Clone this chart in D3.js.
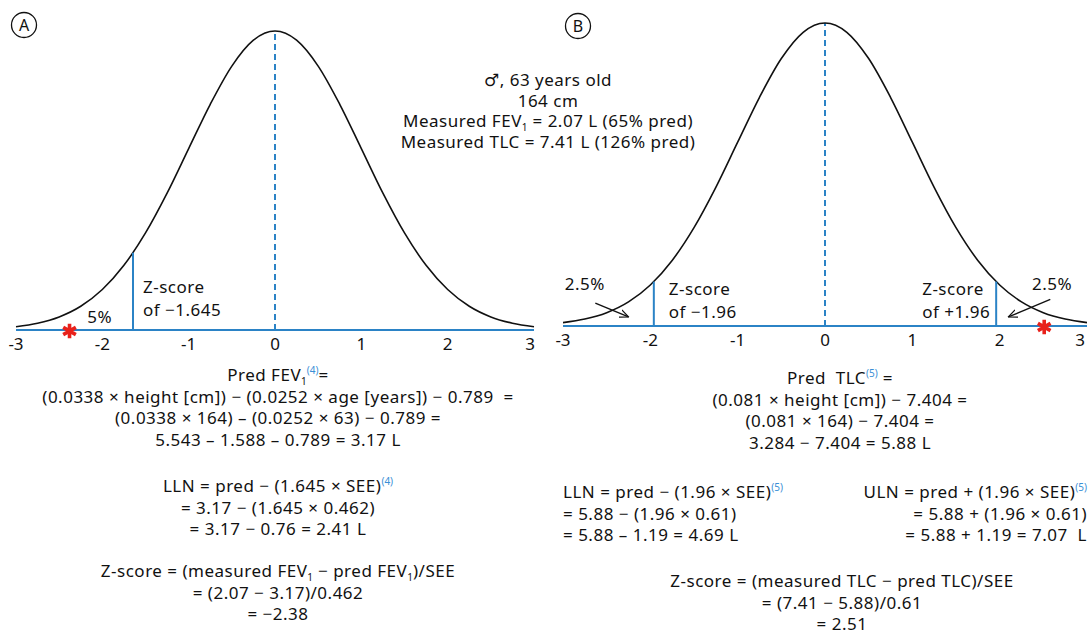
<!DOCTYPE html>
<html>
<head>
<meta charset="utf-8">
<script src="https://cdn.jsdelivr.net/npm/d3@7"></script>
<style>
  body { margin: 0; background: #fff; }
  svg { display: block; font-family: "Noto Sans", "DejaVu Sans", sans-serif; }
  text { fill: #111; }
</style>
</head>
<body>
<div id="chart"></div>
<script>
// Z-score / normal distribution figure, two panels

// standard normal density
var curveZ = [-3, -2.75, -2.5, -2.25, -2, -1.75, -1.5, -1.25, -1, -0.75, -0.5, -0.25, 0,
  0.25, 0.5, 0.75, 1, 1.25, 1.5, 1.75, 2, 2.25, 2.5, 2.75, 3];
var curveDensity = [0.0044, 0.0091, 0.0175, 0.0317, 0.054, 0.0863, 0.1295, 0.1826, 0.242, 0.3011, 0.3521, 0.3867, 0.3989,
  0.3867, 0.3521, 0.3011, 0.242, 0.1826, 0.1295, 0.0863, 0.054, 0.0317, 0.0175, 0.0091, 0.0044];
var zTicks = [-3, -2, -1, 0, 1, 2, 3];
var tickLabels = ['-3', '-2', '-1', '0', '1', '2', '3'];

// panel A : FEV1, one sided
var cutoffsA = [-1.645];
var cutoffDensityA = [0.1031];
var patientZA = -2.38;

// panel B : TLC, two sided
var cutoffsB = [-1.96, 1.96];
var cutoffDensityB = [0.0584, 0.0584];
var patientZB = 2.51;

var blue = '#2b83c6';
var noteBlue = '#3b8fd6';
var FS = '17px';
var LS = '0.5px';

var svg = d3.select('#chart').append('svg')
  .attr('width', 1088)
  .attr('height', 630);

svg.append('defs').append('marker')
  .attr('id', 'arrow')
  .attr('viewBox', '0 0 10 10')
  .attr('refX', 9).attr('refY', 5)
  .attr('markerWidth', 7).attr('markerHeight', 7)
  .attr('orient', 'auto-start-reverse')
  .append('path')
  .attr('d', 'M0,1 L9,5 L0,9')
  .attr('fill', 'none')
  .attr('stroke', '#111')
  .attr('stroke-width', 1.3);

var points = curveZ.map(function(z, i) { return [z, curveDensity[i]]; });

function drawPanel(x, y, cutoffs, cutoffDensity, patientZ, maxLabelX) {
  var g = svg.append('g');
  var line = d3.line()
    .x(function(d) { return x(d[0]); })
    .y(function(d) { return y(d[1]); })
    .curve(d3.curveMonotoneX);

  // x axis line
  g.append('line')
    .attr('x1', x(-3)).attr('x2', x(3))
    .attr('y1', y(0)).attr('y2', y(0))
    .attr('stroke', blue).attr('stroke-width', 2);

  // mean, dashed
  g.append('line')
    .attr('x1', x(0)).attr('x2', x(0))
    .attr('y1', y(0)).attr('y2', y(0.3989))
    .attr('stroke', blue).attr('stroke-width', 2)
    .attr('stroke-dasharray', '6,4');

  g.append('path')
    .datum(points)
    .attr('d', line)
    .attr('fill', 'none')
    .attr('stroke', '#111')
    .attr('stroke-width', 1.6);

  g.selectAll('.cut')
    .data(cutoffs)
    .enter().append('line')
    .attr('class', 'cut')
    .attr('x1', function(d) { return x(d); })
    .attr('x2', function(d) { return x(d); })
    .attr('y1', y(0))
    .attr('y2', function(d, i) { return y(cutoffDensity[i]); })
    .attr('stroke', blue).attr('stroke-width', 2);

  g.selectAll('.tick')
    .data(zTicks)
    .enter().append('text')
    .attr('class', 'tick')
    .attr('x', function(d) { return Math.min(x(d), maxLabelX); })
    .attr('y', y(0) + 20)
    .attr('text-anchor', 'middle')
    .style('font-size', FS)
    .text(function(d, i) { return tickLabels[i]; });

  // patient marker
  g.append('path')
    .attr('d', d3.symbol(d3.symbolAsterisk, 150)())
    .attr('transform', 'translate(' + x(patientZ) + ',' + (y(0) + 1) + ')')
    .attr('fill', 'none')
    .attr('stroke', '#e8211b')
    .attr('stroke-width', 3.6);
  return g;
}

var xA = d3.scaleLinear().domain([-3, 3]).range([16, 534]);
var yA = d3.scaleLinear().domain([0, 0.3989]).range([330, 31]);
var xB = d3.scaleLinear().domain([-3, 3]).range([563, 1087]);
var yB = d3.scaleLinear().domain([0, 0.3989]).range([326, 23]);

var gA = drawPanel(xA, yA, cutoffsA, cutoffDensityA, patientZA, 530);
var gB = drawPanel(xB, yB, cutoffsB, cutoffDensityB, patientZB, 1080);

// panel badges
[['A', 24, 25], ['B', 578, 26]].forEach(function(b) {
  svg.append('circle').attr('cx', b[1]).attr('cy', b[2]).attr('r', 12.5)
    .attr('fill', 'none').attr('stroke', '#111').attr('stroke-width', 1.3);
  svg.append('text').attr('x', b[1]).attr('y', b[2] + 6)
    .attr('text-anchor', 'middle').style('font-size', '16px').text(b[0]);
});

function label(g, x, y, lines, anchor) {
  var t = g.append('text')
    .attr('text-anchor', anchor || 'start')
    .style('font-size', FS)
    .style('letter-spacing', LS);
  lines.forEach(function(l, i) {
    t.append('tspan').attr('x', x).attr('y', y + i * 23).text(l);
  });
}

// panel A annotations
label(gA, xA(cutoffsA[0]) + 10, yA(0.0494), ['Z-score', 'of \u22121.645']);
label(gA, xA(-2.03), yA(0.0093), ['5%'], 'middle');

// panel B annotations
label(gB, xB(cutoffsB[0]) + 15, yB(0.0408), ['Z-score', 'of \u22121.96']);
label(gB, xB(cutoffsB[1]) - 74, yB(0.0408), ['Z-score', 'of +1.96']);
label(gB, xB(-2.75), yB(0.0474), ['2.5%'], 'middle');
label(gB, xB(2.6), yB(0.0474), ['2.5%'], 'middle');

gB.append('line')
  .attr('x1', xB(-2.63)).attr('y1', yB(0.03))
  .attr('x2', xB(-2.25)).attr('y2', yB(0.012))
  .attr('stroke', '#111').attr('stroke-width', 1.4)
  .attr('marker-end', 'url(#arrow)');
gB.append('line')
  .attr('x1', xB(2.58)).attr('y1', yB(0.035))
  .attr('x2', xB(2.1)).attr('y2', yB(0.012))
  .attr('stroke', '#111').attr('stroke-width', 1.4)
  .attr('marker-end', 'url(#arrow)');

// rich text lines: [text, 'sub' | 'sup' | null]
function richLine(x, y, segs, anchor) {
  var t = svg.append('text')
    .attr('x', x).attr('y', y)
    .attr('text-anchor', anchor || 'middle')
    .style('font-size', FS)
    .style('letter-spacing', LS);
  var shift = 0;
  segs.forEach(function(s) {
    var target = s[1] === 'sub' ? 4 : (s[1] === 'sup' ? -7 : 0);
    var ts = t.append('tspan').attr('dy', target - shift).text(s[0]);
    if (s[1]) ts.style('font-size', '10px').style('letter-spacing', '0px');
    if (s[1] === 'sup') ts.style('fill', noteBlue);
    shift = target;
  });
}

function block(x, y0, lines, anchor, step) {
  lines.forEach(function(l, i) { richLine(x, y0 + i * (step || 21.5), l, anchor); });
}

// patient details
block(548, 86, [
  [['\u2642, 63 years old']],
  [['164 cm']],
  [['Measured FEV'], ['1', 'sub'], [' = 2.07 L (65% pred)']],
  [['Measured TLC = 7.41 L (126% pred)']]
], 'middle', 20.5);

// panel A formulas
block(278, 381, [
  [['Pred FEV'], ['1', 'sub'], ['(4)', 'sup'], ['=']],
  [['(0.0338 \u00d7 height [cm]) \u2212 (0.0252 \u00d7 age [years]) \u2212 0.789 \u00a0=']],
  [['(0.0338 \u00d7 164) \u2013 (0.0252 \u00d7 63) \u2212 0.789 =']],
  [['5.543 \u2013 1.588 \u2013 0.789 = 3.17 L']]
]);
block(278, 492, [
  [['LLN = pred \u2212 (1.645 \u00d7 SEE)'], ['(4)', 'sup']],
  [['= 3.17 \u2212 (1.645 \u00d7 0.462)']],
  [['= 3.17 \u2212 0.76 = 2.41 L']]
]);
block(278, 577, [
  [['Z-score = (measured FEV'], ['1', 'sub'], [' \u2212 pred FEV'], ['1', 'sub'], [')/SEE']],
  [['= (2.07 \u2212 3.17)/0.462']],
  [['= \u22122.38']]
]);

// panel B formulas
block(840, 384, [
  [['Pred \u00a0TLC'], ['(5)', 'sup'], [' =']],
  [['(0.081 \u00d7 height [cm]) \u2212 7.404 =']],
  [['(0.081 \u00d7 164) \u2212 7.404 =']],
  [['3.284 \u2212 7.404 = 5.88 L']]
]);
block(563, 498, [
  [['LLN = pred \u2212 (1.96 \u00d7 SEE)'], ['(5)', 'sup']],
  [['= 5.88 \u2212 (1.96 \u00d7 0.61)']],
  [['= 5.88 \u2013 1.19 = 4.69 L']]
], 'start');
block(1087, 498, [
  [['ULN = pred + (1.96 \u00d7 SEE)'], ['(5)', 'sup']],
  [['= 5.88 + (1.96 \u00d7 0.61)']],
  [['= 5.88 + 1.19 = 7.07 \u00a0L']]
], 'end');
block(842, 587, [
  [['Z-score = (measured TLC \u2212 pred TLC)/SEE']],
  [['= (7.41 \u2212 5.88)/0.61']],
  [['= 2.51']]
]);
</script>
</body>
</html>
